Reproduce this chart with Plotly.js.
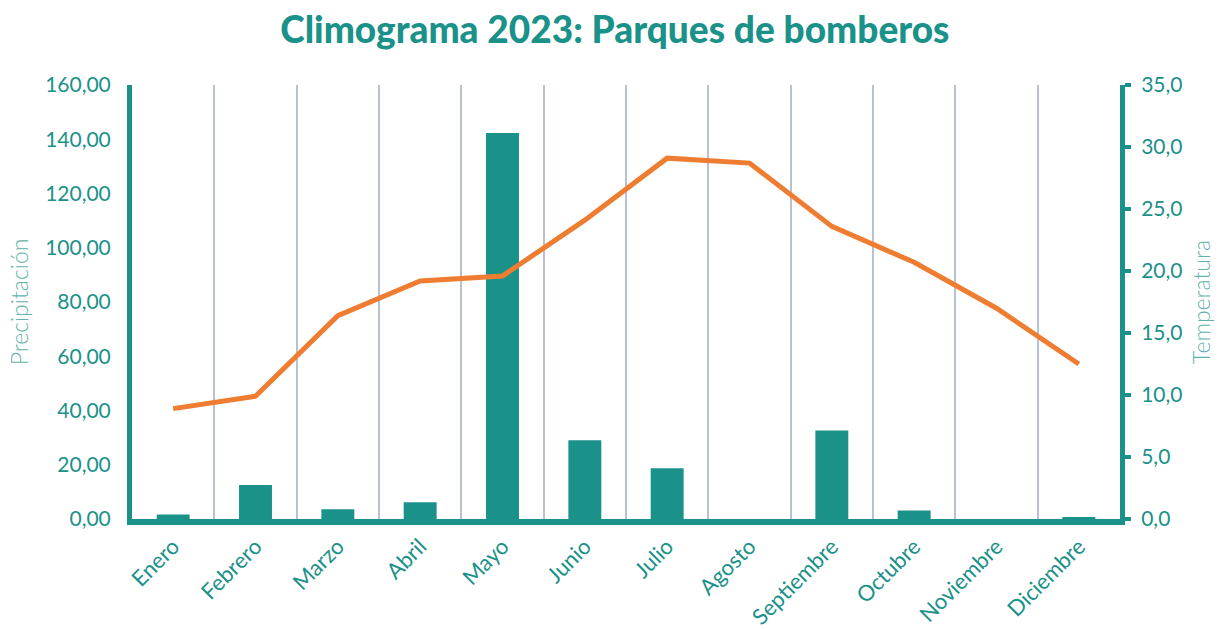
<!DOCTYPE html>
<html><head><meta charset="utf-8">
<script src="https://cdn.plot.ly/plotly-3.0.1.min.js"></script>
<style>body{margin:0;background:#fff}#chart{width:1220px;height:629px}</style>
</head><body><div id="chart"></div>
<script>
const months = ["Enero","Febrero","Marzo","Abril","Mayo","Junio","Julio","Agosto","Septiembre","Octubre","Noviembre","Diciembre"];
const precipitacion = [1.7, 12.5, 3.6, 6.2, 142.3, 29.0, 18.7, 0, 32.6, 3.1, 0, 0.6];
const temperatura = [8.9, 9.9, 16.4, 19.2, 19.6, 24.1, 29.1, 28.7, 23.6, 20.7, 17.0, 12.5];

const teal = "#1a9189";
const teal2 = "#62b2ac";
const fontFam = "Lato, 'Open Sans', sans-serif";

const traces = [
  {type:"bar", x:months, y:precipitacion, name:"Precipitación", marker:{color:teal}, width:0.4, yaxis:"y"},
  {type:"scatter", mode:"lines", x:months, y:temperatura, name:"Temperatura", line:{color:"#ee7d31", width:5}, yaxis:"y2"}
];

const layout = {
  width:1220, height:629,
  margin:{l:132, r:100, t:85, b:110},
  paper_bgcolor:"#fff", plot_bgcolor:"#fff",
  separators:",.",
  showlegend:false,
  font:{family:fontFam, color:teal, size:20},
  title:{text:"Climograma 2023: Parques de bomberos", x:0.504, xanchor:"center", y:0.952, yanchor:"middle", font:{family:fontFam, size:37, color:teal, weight:900}},
  xaxis:{type:"category", tickson:"boundaries", showgrid:true, gridcolor:"#b9c1d1", gridwidth:1.5,
    showline:true, linecolor:teal, linewidth:6, ticks:"", tickangle:-45,
    tickfont:{size:22, color:teal}, range:[-0.5, 11.5], zeroline:false},
  yaxis:{range:[0,160], dtick:20, tickformat:".2f", showgrid:false, zeroline:false,
    showline:true, linecolor:teal, linewidth:5, ticks:"", ticklen:0, ticklabelstandoff:12,
    tickfont:{size:21, color:teal},
    title:{text:"Precipitación", font:{size:23, color:teal2, weight:300}, standoff:12}},
  yaxis2:{overlaying:"y", side:"right", range:[0,35], dtick:5, tickformat:".1f", showgrid:false, zeroline:false,
    showline:true, linecolor:teal, linewidth:5, ticks:"outside", ticklen:6, tickwidth:4, tickcolor:teal, ticklabelstandoff:6,
    tickfont:{size:21, color:teal},
    title:{text:"Temperatura", font:{size:23, color:teal2, weight:300}, standoff:14}}
};
Plotly.newPlot("chart", traces, layout, {displayModeBar:false});
</script></body></html>
